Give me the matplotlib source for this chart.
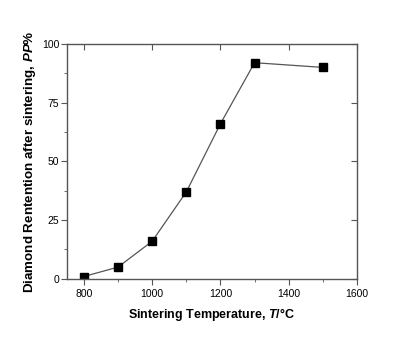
import numpy as np
import matplotlib
matplotlib.use('Agg')
import matplotlib.pyplot as plt
from matplotlib.ticker import MultipleLocator

# Dados: temperatura de sinterizacao x retencao de diamante
temperatura = [800, 900, 1000, 1100, 1200, 1300, 1500]
retencao = [1, 5, 16, 37, 66, 92, 90]

plt.rcParams['font.family'] = 'Liberation Sans'
plt.rcParams['mathtext.fontset'] = 'custom'
plt.rcParams['mathtext.it'] = 'Liberation Sans:italic:bold'
plt.rcParams['mathtext.rm'] = 'Liberation Sans:bold'

fig = plt.figure(figsize=(4.0, 3.43), dpi=100)
ax = fig.add_axes([0.167, 0.187, 0.7255, 0.685])

ax.plot(temperatura, retencao, color='#555555', lw=0.9, zorder=1)
ax.plot(temperatura, retencao, 's', color='black', ms=5.5, zorder=2)

ax.set_xlim(750, 1600)
ax.set_ylim(0, 100)
ax.xaxis.set_major_locator(MultipleLocator(200))
ax.xaxis.set_minor_locator(MultipleLocator(100))
ax.yaxis.set_major_locator(MultipleLocator(25))
ax.yaxis.set_minor_locator(MultipleLocator(12.5))

for s in ax.spines.values():
    s.set_color('#555555')
    s.set_linewidth(1.0)

ax.tick_params(which='both', direction='out', colors='#555555', labelcolor='black', labelsize=7.5)
ax.tick_params(which='major', length=4)
ax.tick_params(which='minor', length=2.5)
ax.tick_params(axis='y', pad=1.5)

# ticks do eixo superior e direito para dentro
sec_x = ax.secondary_xaxis('top')
sec_x.set_xticks([800, 1000, 1200, 1400, 1600])
sec_x.tick_params(direction='in', length=4, colors='#555555', labeltop=False)
sec_x.spines['top'].set_visible(False)
sec_y = ax.secondary_yaxis('right')
sec_y.set_yticks([0, 25, 50, 75, 100])
sec_y.tick_params(direction='in', length=4, colors='#555555', labelright=False)
sec_y.spines['right'].set_visible(False)

ax.set_xlabel('Sintering Temperature, $T$/°C', fontsize=9, fontweight='bold', labelpad=5)
ax.set_ylabel('Diamond Rentention after sintering, $PP$%', fontsize=9.6, fontweight='bold', labelpad=3)

fig.savefig('out.png', dpi=100)
